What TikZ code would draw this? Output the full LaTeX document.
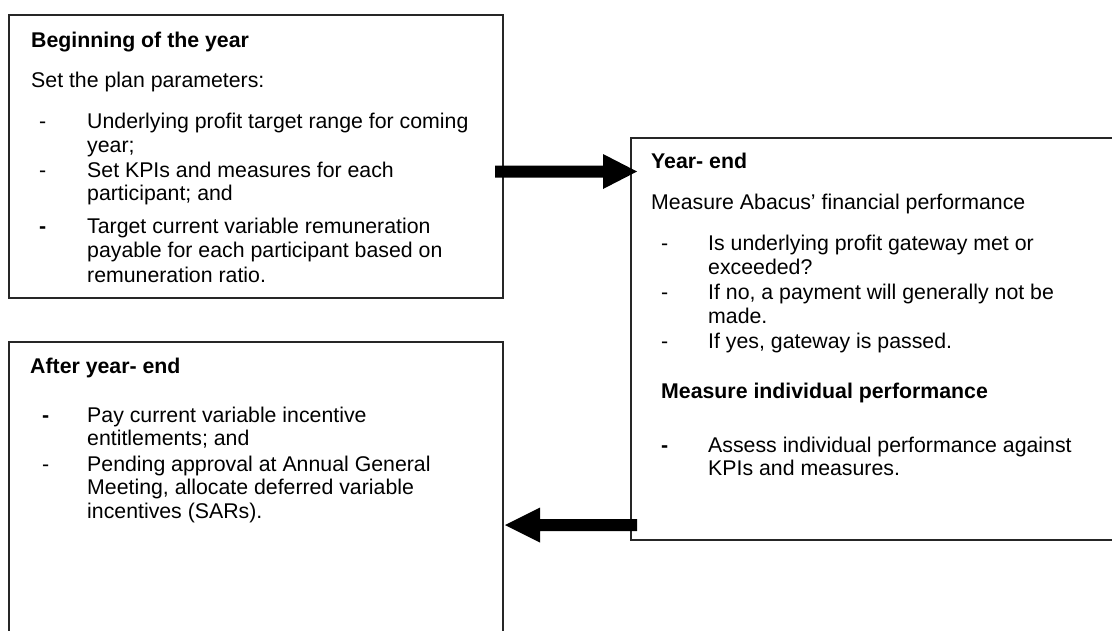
\documentclass[tikz,border=0pt]{standalone}
\usepackage{fontspec}
\setmainfont{Liberation Sans}
\usetikzlibrary{calc}
\tikzset{
  box/.style={draw=black!85, line width=1.1pt},
  txt/.style={anchor=base west, inner sep=0pt, font=\fontsize{21.3}{24}\selectfont},
  hd/.style={txt, font=\fontsize{21.3}{24}\selectfont\bfseries},
  blockarrow/.style={fill=black}
}
\begin{document}
\begin{tikzpicture}[x=1pt,y=-1pt]
\useasboundingbox (0,0) rectangle (1112,630);
\clip (0,0) rectangle (1112,630);
\fill[white] (0,0) rectangle (1112,630);

% boxes
\draw[box] (9,15) rectangle (503,298);
\draw[box] (631,138) rectangle (1130,540);
\draw[box] (9,342) rectangle (503,650);
\coordinate (b1) at (503,171.5);
\coordinate (b2) at (631,171.5);

% Box 1 text
\node[hd]  (h1)  at (31,47)  {Beginning of the year};
\node[txt] (p1)  at (31,87)  {Set the plan parameters:};
\node[txt] (d1a) at (39,128) {-};
\node[txt] (l1a) at (87,128) {Underlying profit target range for coming};
\node[txt] (l1b) at (87,152) {year;};
\node[txt] (d1b) at (39,177) {-};
\node[txt] (l1c) at (87,177) {Set KPIs and measures for each};
\node[txt] (l1d) at (87,200) {participant; and};
\node[hd]  (d1c) at (39,233) {-};
\node[txt] (l1e) at (87,233) {Target current variable remuneration};
\node[txt] (l1f) at (87,257) {payable for each participant based on};
\node[txt] (l1g) at (87,282) {remuneration ratio.};

% Box 2 text
\node[hd]  (h2)  at (651,168) {Year- end};
\node[txt] (p2)  at (651,209) {Measure Abacus’ financial performance};
\node[txt] (d2a) at (661,250) {-};
\node[txt] (l2a) at (708,250) {Is underlying profit gateway met or};
\node[txt] (l2b) at (708,274) {exceeded?};
\node[txt] (d2b) at (661,299) {-};
\node[txt] (l2c) at (708,299) {If no, a payment will generally not be};
\node[txt] (l2d) at (708,323) {made.};
\node[txt] (d2c) at (661,348) {-};
\node[txt] (l2e) at (708,348) {If yes, gateway is passed.};
\node[hd]  (h2b) at (661,398) {Measure individual performance};
\node[hd]  (d2d) at (661,452) {-};
\node[txt] (l2f) at (708,452) {Assess individual performance against};
\node[txt] (l2g) at (708,475) {KPIs and measures.};

% Box 3 text
\node[hd]  (h3)  at (30,373) {After year- end};
\node[hd]  (d3a) at (42,422) {-};
\node[txt] (l3a) at (87,422) {Pay current variable incentive};
\node[txt] (l3b) at (87,445) {entitlements; and};
\node[txt] (d3b) at (42,471) {-};
\node[txt] (l3c) at (87,471) {Pending approval at Annual General};
\node[txt] (l3d) at (87,494) {Meeting, allocate deferred variable};
\node[txt] (l3e) at (87,518) {incentives (SARs).};

% arrows
\coordinate (r0) at (495,171.5);
\coordinate (r1) at (637,171.5);
\fill[blockarrow] ($(r0)+(0,-6)$) -- ($(r1)+(-34,-6)$) -- ($(r1)+(-34,-17.5)$) -- (r1)
  -- ($(r1)+(-34,17.5)$) -- ($(r1)+(-34,6)$) -- ($(r0)+(0,6)$) -- cycle;

\coordinate (s0) at (637,525);
\coordinate (s1) at (505,525);
\fill[blockarrow] ($(s0)+(0,-6)$) -- ($(s1)+(35,-6)$) -- ($(s1)+(35,-17.5)$) -- (s1)
  -- ($(s1)+(35,17.5)$) -- ($(s1)+(35,6)$) -- ($(s0)+(0,6)$) -- cycle;
\end{tikzpicture}
\end{document}
